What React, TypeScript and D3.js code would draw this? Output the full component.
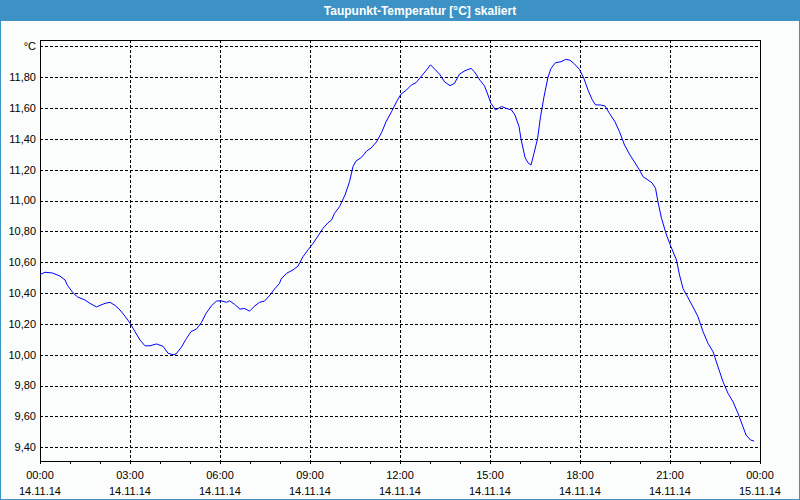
import * as d3 from 'd3'
import React, { useEffect, useRef } from 'react'

// minutes since 14.11.14 00:00
const minutes = [
  0, 10, 25, 40, 50, 55, 65, 75, 90, 100, 113, 120, 130, 140, 150, 160, 170, 180, 190, 200, 210, 220, 233,
  246, 256, 266, 272, 283, 293, 302, 313, 323, 332, 343, 353, 362, 373, 379, 389, 400, 409, 419, 430, 439,
  449, 460, 469, 479, 482, 493, 506, 516, 526, 536, 546, 556, 566, 576, 583, 589, 599, 610, 619, 626, 632,
  643, 653, 662, 673, 683, 692, 703, 713, 722, 733, 743, 752, 763, 773, 781, 790, 799, 809, 820, 829, 839,
  850, 862, 869, 880, 889, 896, 902, 911, 923, 932, 943, 950, 958, 962, 970, 976, 982, 988, 995, 1001,
  1008, 1016, 1022, 1031, 1042, 1051, 1060, 1069, 1079, 1088, 1096, 1104, 1111, 1121, 1130, 1139, 1150,
  1159, 1169, 1180, 1189, 1199, 1206, 1216, 1224, 1231, 1236, 1243, 1253, 1262, 1273, 1279, 1286, 1295,
  1306, 1316, 1326, 1336, 1346, 1356, 1366, 1376, 1386, 1396, 1406, 1412, 1421, 1428,
]

const dewPoint = [
  10.52, 10.535, 10.53, 10.51, 10.485, 10.45, 10.405, 10.375, 10.355, 10.333, 10.31, 10.32, 10.333, 10.34,
  10.32, 10.29, 10.25, 10.205, 10.15, 10.095, 10.058, 10.058, 10.07, 10.055, 10.01, 10.0, 10.005, 10.05,
  10.106, 10.15, 10.167, 10.21, 10.268, 10.318, 10.348, 10.35, 10.34, 10.35, 10.327, 10.296, 10.3, 10.283,
  10.318, 10.34, 10.348, 10.387, 10.426, 10.463, 10.49, 10.528, 10.55, 10.575, 10.636, 10.68, 10.722, 10.77,
  10.82, 10.856, 10.873, 10.917, 10.96, 11.036, 11.122, 11.22, 11.256, 11.28, 11.32, 11.34, 11.38, 11.44,
  11.51, 11.576, 11.64, 11.69, 11.717, 11.75, 11.764, 11.807, 11.846, 11.88, 11.85, 11.82, 11.77, 11.745,
  11.76, 11.82, 11.842, 11.857, 11.835, 11.78, 11.743, 11.684, 11.63, 11.587, 11.61, 11.598, 11.587, 11.554,
  11.48, 11.4, 11.28, 11.245, 11.23, 11.306, 11.4, 11.543, 11.673, 11.8, 11.857, 11.894, 11.9, 11.915, 11.91,
  11.885, 11.85, 11.79, 11.717, 11.656, 11.62, 11.62, 11.613, 11.565, 11.51, 11.446, 11.36, 11.295, 11.25,
  11.198, 11.155, 11.133, 11.115, 11.08, 10.99, 10.885, 10.776, 10.7, 10.614, 10.517, 10.43, 10.376, 10.31,
  10.246, 10.15, 10.074, 10.02, 9.922, 9.825, 9.75, 9.695, 9.62, 9.533, 9.48, 9.447, 9.44,
]

const yTicks = [9.4, 9.6, 9.8, 10.0, 10.2, 10.4, 10.6, 10.8, 11.0, 11.2, 11.4, 11.6, 11.8, 12.0]
const xTickMinutes = [0, 180, 360, 540, 720, 900, 1080, 1260, 1440]
const xTimeLabels = ['00:00', '03:00', '06:00', '09:00', '12:00', '15:00', '18:00', '21:00', '00:00']
const xDateLabels = ['14.11.14', '14.11.14', '14.11.14', '14.11.14', '14.11.14', '14.11.14', '14.11.14', '14.11.14', '15.11.14']
const hourMinutes = d3.range(0, 1441, 60)

const title = 'Taupunkt-Temperatur [°C] skaliert'
const unitLabel = '°C'

const width = 800
const height = 500
const plot = { left: 40, right: 760, top: 40, bottom: 461 }
const font = '"Liberation Sans", Arial, sans-serif'

const App: React.FC = () => {
  const svgRef = useRef<SVGSVGElement>(null)

  useEffect(() => {
    if (!svgRef.current) return
    const svg = d3.select(svgRef.current)
    svg.selectAll('*').remove()

    const x = d3.scaleLinear().domain([0, 1440]).range([plot.left, plot.right])
    const y = d3.scaleLinear().domain([9.311, 12.041]).range([plot.bottom, plot.top])

    // background + frame
    svg.append('rect')
      .attr('x', 0.5).attr('y', 0.5)
      .attr('width', width - 1).attr('height', height - 1)
      .attr('fill', '#fbfdfc')
      .attr('stroke', '#3d92c5')

    // title bar
    svg.append('rect')
      .attr('x', 0).attr('y', 0)
      .attr('width', width).attr('height', 21)
      .attr('fill', '#3d92c5')
    svg.append('text')
      .attr('x', 420).attr('y', 11)
      .attr('dy', '0.35em')
      .attr('text-anchor', 'middle')
      .style('font-family', font)
      .style('font-size', '12px')
      .style('font-weight', 'bold')
      .style('fill', '#ffffff')
      .text(title)

    const grid = svg.append('g').attr('shape-rendering', 'crispEdges')

    // horizontal grid
    grid.selectAll('line.h')
      .data(yTicks)
      .join('line')
      .attr('class', 'h')
      .attr('x1', plot.left).attr('x2', plot.right)
      .attr('y1', d => Math.round(y(d)) + 0.5)
      .attr('y2', d => Math.round(y(d)) + 0.5)
      .attr('stroke', '#000')
      .attr('stroke-dasharray', '3,2')

    // vertical grid
    grid.selectAll('line.v')
      .data(xTickMinutes.slice(1, -1))
      .join('line')
      .attr('class', 'v')
      .attr('x1', d => Math.round(x(d)) + 0.5)
      .attr('x2', d => Math.round(x(d)) + 0.5)
      .attr('y1', plot.top).attr('y2', plot.bottom + 3)
      .attr('stroke', '#000')
      .attr('stroke-dasharray', '3,2')

    // hourly ticks under the axis
    grid.selectAll('line.tick')
      .data(hourMinutes)
      .join('line')
      .attr('class', 'tick')
      .attr('x1', d => Math.round(x(d)) + 0.5)
      .attr('x2', d => Math.round(x(d)) + 0.5)
      .attr('y1', plot.bottom).attr('y2', plot.bottom + 3)
      .attr('stroke', '#000')

    // plot border
    grid.append('rect')
      .attr('x', plot.left + 0.5).attr('y', plot.top + 0.5)
      .attr('width', plot.right - plot.left).attr('height', plot.bottom - plot.top)
      .attr('fill', 'none')
      .attr('stroke', '#000')

    // y labels
    svg.selectAll('text.ylab')
      .data(yTicks)
      .join('text')
      .attr('class', 'ylab')
      .attr('x', plot.left - 4)
      .attr('y', d => y(d))
      .attr('dy', '0.35em')
      .attr('text-anchor', 'end')
      .style('font-family', font)
      .style('font-size', '11px')
      .style('fill', '#000')
      .text(d => (d === 12 ? unitLabel : d3.format('.2f')(d).replace('.', ',')))

    // x labels
    svg.selectAll('text.xtime')
      .data(xTickMinutes)
      .join('text')
      .attr('class', 'xtime')
      .attr('x', d => x(d))
      .attr('y', 475)
      .attr('dy', '0.35em')
      .attr('text-anchor', 'middle')
      .style('font-family', font)
      .style('font-size', '11px')
      .text((_, i) => xTimeLabels[i])

    svg.selectAll('text.xdate')
      .data(xTickMinutes)
      .join('text')
      .attr('class', 'xdate')
      .attr('x', d => x(d))
      .attr('y', 491)
      .attr('dy', '0.35em')
      .attr('text-anchor', 'middle')
      .style('font-family', font)
      .style('font-size', '11px')
      .text((_, i) => xDateLabels[i])

    // data line
    const points: [number, number][] = minutes.map((m, i) => [m, dewPoint[i]])
    const line = d3.line<[number, number]>()
      .x(d => x(d[0]))
      .y(d => y(d[1]))

    svg.append('path')
      .datum(points)
      .attr('fill', 'none')
      .attr('stroke', '#0000ff')
      .attr('stroke-width', 1)
      .attr('d', line)
  }, [])

  return (
    <svg
      ref={svgRef}
      width={width}
      height={height}
      style={{ position: 'absolute', left: 0, top: 0, display: 'block' }}
    />
  )
}

export default App
